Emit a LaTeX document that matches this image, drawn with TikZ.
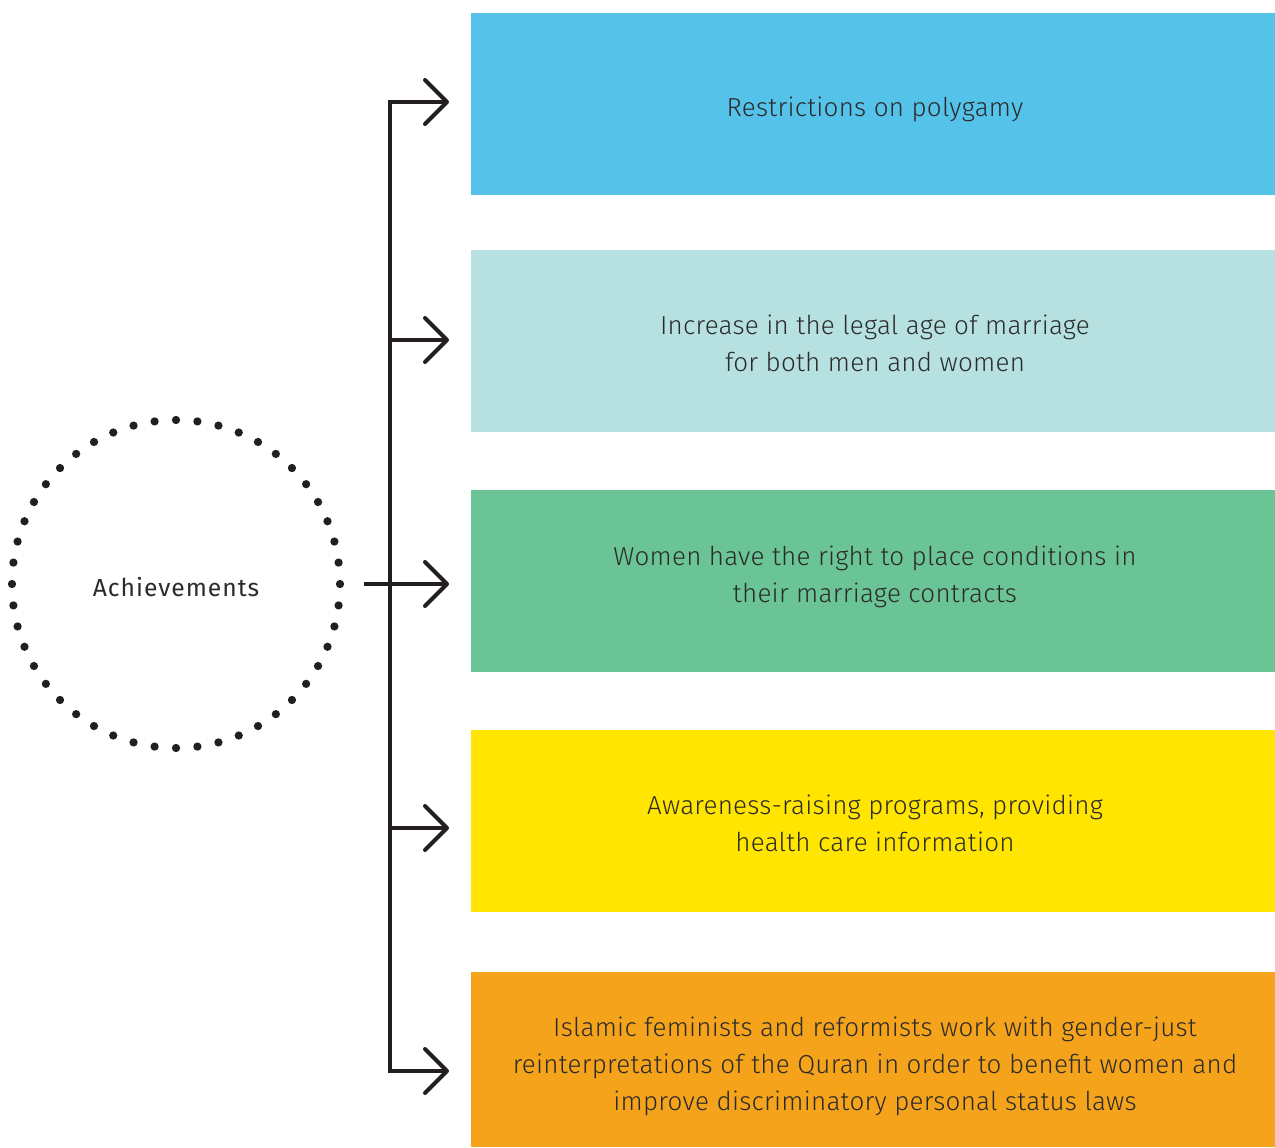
\documentclass[tikz,border=0pt]{standalone}
\usepackage{fontspec}
\setmainfont{Fira Sans Light}
\newfontfamily\achfont[LetterSpace=4]{Fira Sans}
\newfontfamily\boxfont[LetterSpace=1]{Fira Sans Light}
\usetikzlibrary{arrows.meta,calc}
\definecolor{cA}{HTML}{55C2EA}
\definecolor{cB}{HTML}{B7E1E1}
\definecolor{cC}{HTML}{6BC495}
\definecolor{cD}{HTML}{FFE500}
\definecolor{cE}{HTML}{F5A31B}
\definecolor{ink}{HTML}{231F20}
\definecolor{txt}{HTML}{2B2B2B}
\tikzset{
  box/.style={rectangle, inner sep=0pt, minimum width=603pt},
  lbl/.style={inner sep=0pt, align=center, text=txt,
    font=\boxfont\fontsize{19.5}{27.75}\selectfont},
  conn/.style={draw=ink, line width=3pt,
    {Straight Barb[length=16.5pt,width=33pt,round,line width=3pt]}-{Straight Barb[length=16.5pt,width=33pt,round,line width=3pt]}},
  oneway/.style={draw=ink, line width=3pt,
    -{Straight Barb[length=16.5pt,width=33pt,round,line width=3pt]}},
  dot/.style={circle, fill=ink, inner sep=0pt, minimum size=6.2pt}
}
\begin{document}
\begin{tikzpicture}[x=0.75pt,y=-0.75pt]
\useasboundingbox (0,0) rectangle (1275,1147);
\node[box, fill=cA, minimum height=136.5pt] (b1) at (873,104) {};
\node[box, fill=cB, minimum height=136.5pt] (b2) at (873,341) {};
\node[box, fill=cC, minimum height=136.5pt] (b3) at (873,581) {};
\node[box, fill=cD, minimum height=136.5pt] (b4) at (873,821) {};
\node[box, fill=cE, minimum height=131.25pt] (b5) at (873,1059.5) {};
\node[lbl] (l1) at ($(b1.center)+(2,5)$) {Restrictions on polygamy};
\node[lbl] (l2) at ($(b2.center)+(2,2)$) {Increase in the legal age of marriage\\for both men and women};
\node[lbl] (l3) at ($(b3.center)+(2,-4)$) {Women have the right to place conditions in\\their marriage contracts};
\node[lbl] (l4) at ($(b4.center)+(2,2)$) {Awareness-raising programs, providing\\health care information};
\node[lbl] (l5) at ($(b5.center)+(2,7)$) {Islamic feminists and reformists work with gender-just\\reinterpretations of the Quran in order to benefit women and\\improve discriminatory personal status laws};
\node[circle, minimum size=246pt, inner sep=0pt] (ach) at (176,584) {};
\node[text=txt, inner sep=0pt, font=\achfont\fontsize{18.5}{22}\selectfont] (achl) at ($(ach.center)+(0,3)$) {Achievements};
\foreach \a in {0,7.5,...,352.5} {
  \node[dot] at ($(ach.center)+(\a:123pt)$) {};
}
\coordinate (t1) at (390,102);
\coordinate (t2) at (390,340);
\coordinate (t3) at (390,584);
\coordinate (t4) at (390,828);
\coordinate (t5) at (390,1071);
\coordinate (e1) at (449,102);
\coordinate (e2) at (449,340);
\coordinate (e3) at (449,584);
\coordinate (e4) at (449,828);
\coordinate (e5) at (449,1071);
\coordinate (s3) at (364,584);
\draw[conn] (e1) -- (t1) -- (t5) -- (e5);
\draw[oneway] (t2) -- (e2);
\draw[oneway] (s3) -- (e3);
\draw[oneway] (t4) -- (e4);
\end{tikzpicture}
\end{document}
